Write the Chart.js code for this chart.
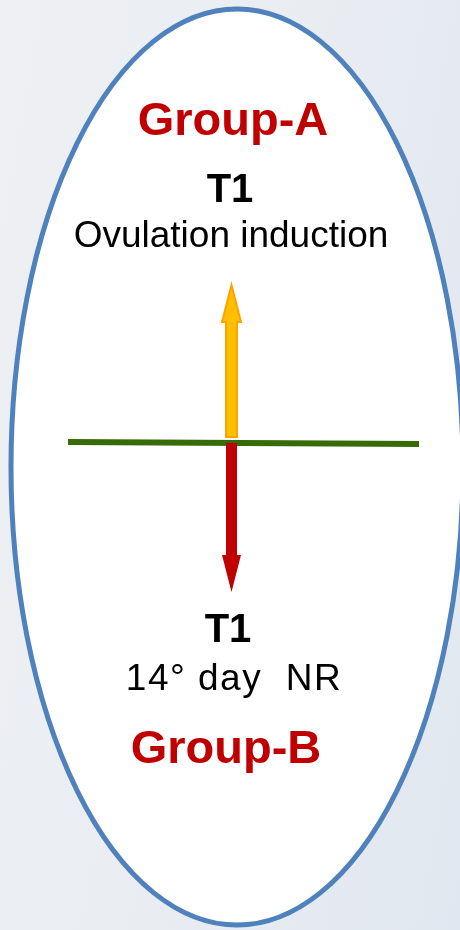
<!DOCTYPE html>
<html>
<head>
<meta charset="utf-8">
<script src="https://cdn.jsdelivr.net/npm/chart.js@4.4.0/dist/chart.umd.min.js"></script>
<style>
html, body { margin: 0; padding: 0; }
body {
    width: 460px; height: 930px; overflow: hidden;
    background: linear-gradient(100deg, #eef0f3 0%, #e9edf2 50%, #e1e7f0 100%);
}
#wrap { position: relative; width: 460px; height: 930px; }
</style>
</head>
<body>
<div id="wrap"><canvas id="diagrama"></canvas></div>
<script>
// textos do esquema
const textosTopo = ['Group-A', 'T1', 'Ovulation induction'];
const textosBase = ['T1', '14° day  NR', 'Group-B'];

// linha verde (x, y em unidades do eixo)
const linhaX = [68, 419];
const linhaY = [442, 444];

// setas: x do eixo e y de inicio/fim
const setaX = 231.5;
const setaCimaY = [437, 285];
const setaBaixoY = [443, 592];

// elipse: centro e raios em unidades do eixo
const elipseCentro = [237, 467];
const elipseRaio = [226, 458];

// onde vai cada texto (centro x, linha de base y)
const posTopoX = [233, 230, 231];
const posTopoY = [135, 202, 247];
const posBaseX = [228, 234, 226];
const posBaseY = [642, 690, 763];

const vermelho = '#c00000';
const fonte = "'Liberation Sans', Arial, sans-serif";

function desenhaSeta(ctx, xs, ys, x, y0, y1, cor, borda) {
    const px = xs.getPixelForValue(x);
    const a = ys.getPixelForValue(y0);
    const b = ys.getPixelForValue(y1);
    const dir = b < a ? -1 : 1;
    const cabeca = 37;
    const meiaHaste = 5.5;
    const meiaCabeca = 9.5;
    const base = b - dir * cabeca;
    ctx.beginPath();
    ctx.moveTo(px - meiaHaste, a);
    ctx.lineTo(px - meiaHaste, base);
    ctx.lineTo(px - meiaCabeca, base);
    ctx.lineTo(px, b);
    ctx.lineTo(px + meiaCabeca, base);
    ctx.lineTo(px + meiaHaste, base);
    ctx.lineTo(px + meiaHaste, a);
    ctx.closePath();
    ctx.fillStyle = cor;
    ctx.fill();
    if (borda) {
        ctx.strokeStyle = borda;
        ctx.lineWidth = 2;
        ctx.lineJoin = 'miter';
        ctx.stroke();
    }
}

const pluginEsquema = {
    id: 'esquema',
    beforeDatasetsDraw(chart) {
        const { ctx, scales: { x, y } } = chart;
        const cx = x.getPixelForValue(elipseCentro[0]);
        const cy = y.getPixelForValue(elipseCentro[1]);
        const rx = Math.abs(x.getPixelForValue(elipseCentro[0] + elipseRaio[0]) - cx);
        const ry = Math.abs(y.getPixelForValue(elipseCentro[1] + elipseRaio[1]) - cy);
        ctx.save();
        ctx.beginPath();
        ctx.ellipse(cx, cy, rx, ry, 0, 0, Math.PI * 2);
        ctx.fillStyle = '#ffffff';
        ctx.fill();
        ctx.lineWidth = 5;
        ctx.strokeStyle = '#4f81bd';
        ctx.stroke();
        ctx.restore();
    },
    afterDatasetsDraw(chart) {
        const { ctx, scales: { x, y } } = chart;
        ctx.save();
        desenhaSeta(ctx, x, y, setaX, setaCimaY[0], setaCimaY[1], '#ffc000', '#ffa200');
        desenhaSeta(ctx, x, y, setaX, setaBaixoY[0], setaBaixoY[1], vermelho, null);

        // [fonte, cor, espacamento]
        const grupo = ['bold 47px ' + fonte, vermelho, '0px'];
        const tempo = ['bold 40px ' + fonte, '#000000', '0px'];
        const desc = ['37px ' + fonte, '#000000', '0px'];
        const estilosTopo = [grupo, tempo, desc];
        const estilosBase = [tempo, ['37px ' + fonte, '#000000', '1.5px'], grupo];
        ctx.textAlign = 'center';
        ctx.textBaseline = 'alphabetic';
        const escreve = (t, st, px, py) => {
            ctx.font = st[0];
            ctx.fillStyle = st[1];
            ctx.letterSpacing = st[2];
            ctx.fillText(t, x.getPixelForValue(px), y.getPixelForValue(py));
        };
        textosTopo.forEach((t, i) => escreve(t, estilosTopo[i], posTopoX[i], posTopoY[i]));
        textosBase.forEach((t, i) => escreve(t, estilosBase[i], posBaseX[i], posBaseY[i]));
        ctx.restore();
    }
};

new Chart(document.getElementById('diagrama'), {
    type: 'scatter',
    data: {
        datasets: [{
            label: 'linha',
            data: linhaX.map((v, i) => ({ x: v, y: linhaY[i] })),
            showLine: true,
            borderColor: '#376b08',
            borderWidth: 6,
            pointRadius: 0,
            borderCapStyle: 'butt'
        }]
    },
    options: {
        responsive: true,
        maintainAspectRatio: false,
        animation: false,
        layout: { padding: 0 },
        plugins: { legend: { display: false }, tooltip: { enabled: false } },
        scales: {
            x: { type: 'linear', min: 0, max: 460, display: false },
            y: { type: 'linear', min: 0, max: 930, reverse: true, display: false }
        }
    },
    plugins: [pluginEsquema]
});
</script>
</body>
</html>
